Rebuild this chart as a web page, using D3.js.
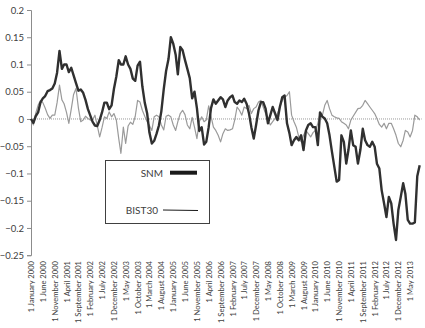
<!DOCTYPE html>
<html>
<head>
<meta charset="utf-8">
<script src="https://cdn.jsdelivr.net/npm/d3@7"></script>
<style>
  body { margin: 0; background: #fff; }
  svg { display: block; font-family: Lato, "Open Sans", sans-serif; }
</style>
</head>
<body>
<svg id="chart" width="425" height="328"></svg>
<script>
// monthly values, January 2000 onwards
const snm = [
  0, -0.007, 0.005, 0.012, 0.03, 0.038, 0.042, 0.051, 0.053, 0.056,
  0.065, 0.085, 0.125, 0.092, 0.1, 0.1, 0.086, 0.094, 0.08, 0.066,
  0.052, 0.054, 0.048, 0.035, 0.018, 0.006, -0.005, -0.012, -0.013, -0.002,
  0.012, 0.03, 0.03, 0.018, 0.025, 0.055, 0.078, 0.108, 0.1, 0.1,
  0.115, 0.1, 0.092, 0.074, 0.07, 0.098, 0.105, 0.06, 0.03, 0.01,
  -0.025, -0.045, -0.04, -0.027, -0.012, 0.014, 0.055, 0.088, 0.11, 0.15,
  0.138, 0.118, 0.082, 0.132, 0.126, 0.108, 0.092, 0.075, 0.038, 0.05,
  0.02, -0.022, -0.015, -0.047, -0.042, -0.015, 0.02, 0.036, 0.028, 0.034,
  0.04, 0.036, 0.022, 0.034, 0.04, 0.043, 0.031, 0.028, 0.034, 0.031,
  0.037, 0.028, 0.01, -0.015, -0.036, -0.011, 0.016, 0.031, 0.031, 0.019,
  -0.008, 0.007, 0.022, 0.01, -0.002, 0.022, 0.04, 0.043, -0.008, -0.026,
  -0.048, -0.039, -0.033, -0.039, -0.03, -0.057, -0.021, -0.011, -0.008, -0.015,
  -0.015, -0.048, 0.012, 0.004, 0.001, -0.008, -0.03, -0.06, -0.088, -0.115,
  -0.112, -0.03, -0.042, -0.082, -0.057, -0.021, -0.048, -0.051, -0.082, -0.057,
  -0.018, -0.039, -0.048, -0.051, -0.042, -0.051, -0.082, -0.091, -0.131, -0.155,
  -0.18, -0.143, -0.155, -0.192, -0.222, -0.167, -0.143, -0.118, -0.137, -0.185,
  -0.192, -0.192, -0.19, -0.105, -0.085
];

const bist30 = [
  0, -0.011, 0.01, 0.025, 0.034, 0.03, 0.02, 0.008, 0.001, 0.007,
  0.007, 0.03, 0.062, 0.035, 0.028, 0.012, -0.008, 0.018, 0.045, 0.056,
  0.02, -0.005, -0.002, 0.005, 0.001, -0.002, -0.002, 0.007, -0.012, -0.033,
  -0.016, 0.004, 0.001, 0.013, 0.004, 0.01, -0.002, -0.036, -0.063, -0.015,
  -0.045, -0.013, -0.006, -0.01, 0.005, 0.034, 0.031, 0.016, 0.005, -0.005,
  -0.012, -0.021, 0.004, 0.007, 0.004, -0.011, -0.02, 0.005, 0.007, 0.004,
  -0.011, -0.021, -0.005, 0.01, 0.016, 0.008, -0.011, -0.018, 0.003, -0.015,
  -0.036, -0.005, 0.004, -0.005, -0.002, 0.024, 0.005, -0.015, -0.021, -0.03,
  -0.042, -0.027, -0.018, -0.021, -0.02, -0.018, -0.002, 0.022, 0.016, 0.007,
  0.022, 0.019, 0.025, 0.01, 0.019, 0.022, 0.031, 0.034, 0.022, 0.01,
  -0.002, -0.011, -0.005, 0.001, 0.01, 0.022, 0.034, 0.04, 0.043, 0.05,
  0.007, -0.005, -0.015, -0.033, -0.042, -0.03, -0.021, -0.027, -0.033, -0.025,
  -0.021, -0.008, 0.01, 0.007, 0.025, 0.034, 0.019, 0.007, 0.004, 0.002,
  0.001, -0.005, -0.008, -0.011, -0.018, -0.002, 0.005, 0.012, 0.019, 0.02,
  0.025, 0.034, 0.028, 0.022, 0.016, 0.01, 0.001, -0.01, -0.015, -0.008,
  -0.018, -0.008, -0.008, -0.018, -0.03, -0.045, -0.051, -0.039, -0.021, -0.024,
  -0.033, -0.021, 0.007, 0.004, -0.002
];

const xLabels = [
  "1 January 2000", "1 June 2000", "1 November 2000", "1 April 2001", "1 September 2001",
  "1 February 2002", "1 July 2002", "1 December 2002", "1 May 2003", "1 October 2003",
  "1 March 2004", "1 August 2004", "1 January 2005", "1 June 2005", "1 November 2005",
  "1 April 2006", "1 September 2006", "1 February 2007", "1 July 2007", "1 December 2007",
  "1 May 2008", "1 October 2008", "1 March 2009", "1 August 2009", "1 January 2010",
  "1 June 2010", "1 November 2010", "1 April 2011", "1 September 2011", "1 February 2012",
  "1 July 2012", "1 December 2012", "1 May 2013"
];

const yTicks = [0.2, 0.15, 0.1, 0.05, 0, -0.05, -0.1, -0.15, -0.2, -0.25];

const seriesNames = ["SNM", "BIST30"];

const svg = d3.select("#chart");
const parse = d3.timeParse("%d %B %Y");
const dates = snm.map((d, i) => new Date(2000, i, 1));

const x = d3.scaleTime()
  .domain([dates[0], dates[dates.length - 1]])
  .range([31, 31 + (dates.length - 1) * 2.37]);

const y = d3.scaleLinear()
  .domain([-0.25, 0.2])
  .range([255.2, 10]);

// y axis
const yAxis = svg.append("g")
  .attr("transform", "translate(31,0)")
  .call(d3.axisLeft(y).tickValues(yTicks).tickSize(4).tickPadding(3)
    .tickFormat(d => d3.format("")(d)));
yAxis.select(".domain").attr("stroke", "#8c8c8c");
yAxis.selectAll(".tick line").attr("stroke", "#8c8c8c");
yAxis.selectAll("text")
  .attr("font-size", "9.5px")
  .attr("fill", "#404040")
  .attr("font-family", "Lato, sans-serif");

// zero line
svg.append("line")
  .attr("x1", 31).attr("x2", x(dates[dates.length - 1]) + 2)
  .attr("y1", y(0)).attr("y2", y(0))
  .attr("stroke", "#9a9a9a")
  .attr("stroke-width", 1)
  .attr("stroke-dasharray", "1,1");

// x labels
svg.append("g").selectAll("text")
  .data(xLabels)
  .enter()
  .append("text")
  .attr("transform", d => `translate(${x(parse(d)) + 3},261) rotate(-90)`)
  .attr("text-anchor", "end")
  .attr("font-size", "7.6px")
  .attr("fill", "#404040")
  .text(d => d);

const line = d3.line()
  .x((d, i) => x(dates[i]))
  .y(d => y(d));

svg.append("path")
  .datum(bist30)
  .attr("d", line)
  .attr("fill", "none")
  .attr("stroke", "#9a9a9a")
  .attr("stroke-width", 1.2)
  .attr("stroke-linejoin", "round");

svg.append("path")
  .datum(snm)
  .attr("d", line)
  .attr("fill", "none")
  .attr("stroke", "#303030")
  .attr("stroke-width", 2.4)
  .attr("stroke-linejoin", "round");

// legend
const legend = svg.append("g");
legend.append("rect")
  .attr("x", 105.5).attr("y", 160.5)
  .attr("width", 104).attr("height", 63)
  .attr("fill", "#fff")
  .attr("stroke", "#404040")
  .attr("stroke-width", 1);

legend.append("text")
  .attr("x", 163).attr("y", 177)
  .attr("text-anchor", "end")
  .attr("font-size", "10px")
  .attr("fill", "#404040")
  .text(seriesNames[0]);
legend.append("line")
  .attr("x1", 170).attr("x2", 197)
  .attr("y1", 172.7).attr("y2", 172.7)
  .attr("stroke", "#1a1a1a")
  .attr("stroke-width", 4);

legend.append("text")
  .attr("x", 158).attr("y", 214)
  .attr("text-anchor", "end")
  .attr("font-size", "10px")
  .attr("fill", "#404040")
  .text(seriesNames[1]);
legend.append("line")
  .attr("x1", 163).attr("x2", 198)
  .attr("y1", 210).attr("y2", 210.5)
  .attr("stroke", "#1a1a1a")
  .attr("stroke-width", 1);
</script>
</body>
</html>
